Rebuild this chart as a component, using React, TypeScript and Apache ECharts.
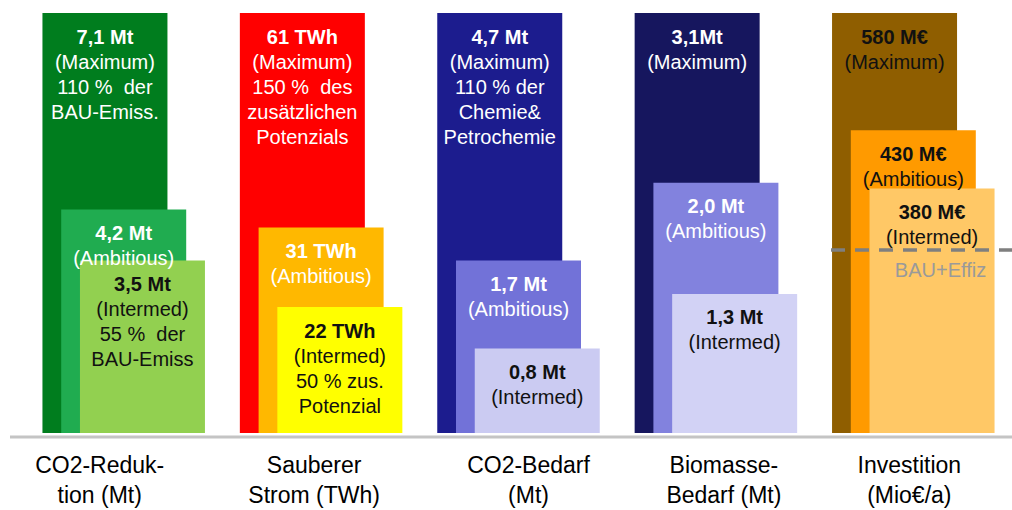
import React, { useEffect, useRef } from 'react';
import * as echarts from 'echarts';

const categories = ['CO2-Reduk-\ntion (Mt)', 'Sauberer\nStrom (TWh)', 'CO2-Bedarf\n(Mt)', 'Biomasse-\nBedarf (Mt)', 'Investition\n(Mio€/a)'];
const scenarios = ['Maximum', 'Ambitious', 'Intermed'];
const units = ['Mt', 'TWh', 'Mt', 'Mt', 'M€'];

// actual values shown in the labels
const maxValues = [7.1, 61, 4.7, 3.1, 580];
const ambValues = [4.2, 31, 1.7, 2.0, 430];
const intValues = [3.5, 22, 0.8, 1.3, 380];

// bar heights as drawn in the picture, in % of each group's Maximum bar
const maxHeights = [100, 100, 100, 100, 100];
const ambHeights = [53.2, 48.9, 41.1, 59.6, 72.1];
const intHeights = [41.1, 30.0, 20.1, 33.1, 58.2];

const maxNotes = ['110 %  der\nBAU-Emiss.', '150 %  des\nzusätzlichen\nPotenzials', '110 % der\nChemie&\nPetrochemie', '', ''];
const ambNotes = ['', '', '', '', ''];
const intNotes = ['55 %  der\nBAU-Emiss', '50 % zus.\nPotenzial', '', '', ''];

const bauEffizLevel = 43.7;

const maxColors = ['#007d1e', '#ff0000', '#1c1c8e', '#16165e', '#8f5e00'];
const ambColors = ['#20ac50', '#ffb800', '#7272d8', '#8282de', '#ff9a00'];
const intColors = ['#92d050', '#ffff00', '#cbcbf2', '#d2d2f5', '#ffc866'];
const maxTextColors = ['#ffffff', '#ffffff', '#ffffff', '#ffffff', '#111111'];
const ambTextColors = ['#ffffff', '#ffffff', '#ffffff', '#ffffff', '#111111'];
const intTextColors = ['#111111', '#111111', '#111111', '#111111', '#111111'];

const FONT = '"Liberation Sans", Arial, sans-serif';

function fmt(v: number, unit: string, i: number) {
  const num = unit === 'Mt' ? v.toFixed(1).replace('.', ',') : String(v);
  const sep = i === 3 && v === maxValues[3] ? '' : ' ';
  return num + sep + unit;
}

export default function App() {
  const ref = useRef<HTMLDivElement>(null);
  useEffect(() => {
    document.body.style.margin = '0';
    if (!ref.current) return;
    const chart = echarts.init(ref.current, undefined, { renderer: 'svg' });

    const sets = [
      { heights: maxHeights, values: maxValues, notes: maxNotes, colors: maxColors, text: maxTextColors },
      { heights: ambHeights, values: ambValues, notes: ambNotes, colors: ambColors, text: ambTextColors },
      { heights: intHeights, values: intValues, notes: intNotes, colors: intColors, text: intTextColors },
    ];

    const series: any[] = sets.map((s, si) => ({
      name: scenarios[si],
      type: 'bar',
      barWidth: 125,
      barGap: '-85%',
      data: s.heights.map((h, i) => ({
        value: h,
        itemStyle: { color: s.colors[i] },
        label: { color: s.text[i] },
      })),
      label: {
        show: true,
        position: 'insideTop',
        distance: 11,
        fontFamily: FONT,
        formatter: (p: any) => {
          const i = p.dataIndex;
          let t = '{b|' + fmt(s.values[i], units[i], i) + '}\n{n|(' + scenarios[si] + ')}';
          if (s.notes[i]) t += '\n' + s.notes[i].split('\n').map((l) => '{n|' + l + '}').join('\n');
          return t;
        },
        rich: {
          b: { fontFamily: FONT, fontSize: 20, fontWeight: 'bold', lineHeight: 25 },
          n: { fontFamily: FONT, fontSize: 20, lineHeight: 25 },
        },
      },
    }));

    series[2].markLine = {
      silent: true,
      symbol: 'none',
      lineStyle: { color: '#7f7f7f', width: 3.5, type: [14, 10] },
      label: {
        show: true,
        position: 'insideMiddleBottom',
        formatter: 'BAU+Effiz',
        color: '#9a9a9a',
        fontFamily: FONT,
        fontSize: 20,
        padding: [0, 0, 0, 38],
        distance: 11,
      },
      data: [[
        { xAxis: categories[4], yAxis: bauEffizLevel, x: 831 },
        { xAxis: categories[4], yAxis: bauEffizLevel, x: 1012 },
      ]],
    };

    const labelShift = [-24, -7, 10, 8, -4];

    chart.setOption({
      animation: false,
      grid: { left: 25, width: 996, top: 13, bottom: 74 },
      xAxis: {
        type: 'category',
        data: categories.map((c, i) => ({
          value: c,
          textStyle: {
            padding: labelShift[i] < 0 ? [0, -2 * labelShift[i], 0, 0] : [0, 0, 0, 2 * labelShift[i]],
          },
        })),
        axisLine: { show: false },
        axisTick: { show: false },
        axisLabel: {
          fontFamily: FONT,
          fontSize: 23,
          lineHeight: 30,
          margin: 17,
          color: '#000000',
          interval: 0,
        },
      },
      yAxis: { type: 'value', min: 0, max: 100, show: false },
      graphic: [
        {
          type: 'line',
          shape: { x1: 10, y1: 437, x2: 1012, y2: 437 },
          style: { stroke: '#c4c4c4', lineWidth: 3 },
          z: 0,
        },
      ],
      series,
    });
    return () => chart.dispose();
  }, []);
  return <div ref={ref} style={{ width: 1012, height: 510 }} />;
}
